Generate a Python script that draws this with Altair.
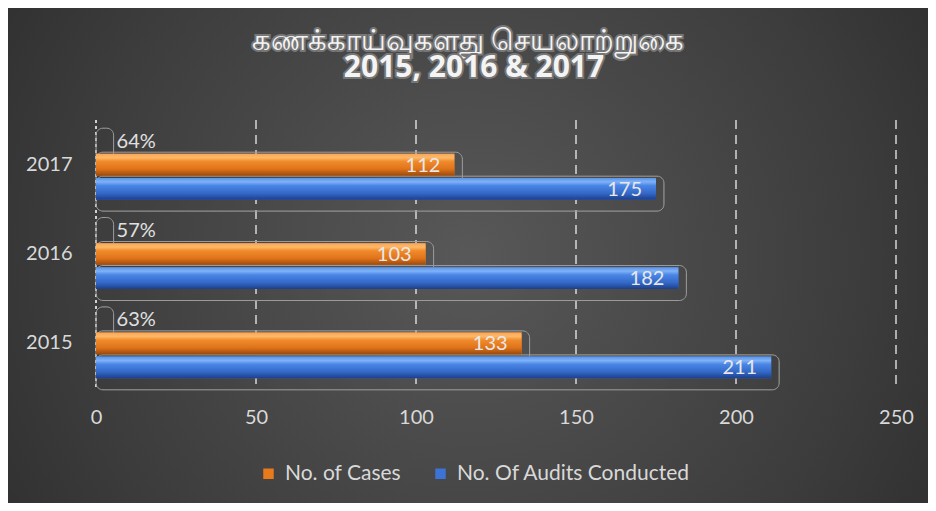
import altair as alt
import pandas as pd

# ---- data ----
years = ["2017", "2016", "2015"]
cases = [112, 103, 133]
audits = [175, 182, 211]
pct_labels = ["64%", "57%", "63%"]
series_names = ["No. of Cases", "No. Of Audits Conducted"]
x_ticks = [0, 50, 100, 150, 200, 250]
title_line1 = "கணக்காய்வுகளது  செயலாற்றுகை"
title_line2 = "2015, 2016 & 2017"

rows = []
for yr, c, a in zip(years, cases, audits):
    rows.append({"year": yr, "series": series_names[0], "value": c})
    rows.append({"year": yr, "series": series_names[1], "value": a})
df = pd.DataFrame(rows)
pct_df = pd.DataFrame({"year": years, "series": ["pct"] * 3, "label": pct_labels, "value": [3] * 3})
grid_df = pd.DataFrame({"value": x_ticks[1:]})
zero_df = pd.DataFrame({"value": x_ticks[:1]})

W, H = 800, 268
FONT = "Lato"
LABEL_COLOR = "#d9d9d9"

x_scale = alt.Scale(domain=[0, 250], nice=False, zero=True)
y_scale = alt.Scale(domain=years, paddingInner=0.216, paddingOuter=0.108)
off_scale = alt.Scale(domain=["pct"] + series_names, paddingInner=0.1, paddingOuter=0)

x_axis = alt.Axis(values=x_ticks, title=None, grid=False, domain=False, ticks=False,
                  labelColor=LABEL_COLOR, labelFont=FONT, labelFontSize=20,
                  labelPadding=19, labelFlush=False, zindex=1)
X = alt.X("value:Q", scale=x_scale, axis=x_axis)
Y = alt.Y("year:N", scale=y_scale, sort=years,
          axis=alt.Axis(title=None, grid=False, domain=False, ticks=False,
                        labelColor=LABEL_COLOR, labelFont=FONT, labelFontSize=20,
                        labelPadding=24, zindex=1))
YO = alt.YOffset("series:N", scale=off_scale)

def lin(stops):
    return alt.Gradient(gradient="linear", x1=0, x2=0, y1=0, y2=1,
                        stops=[alt.GradientStop(offset=o, color=c) for o, c in stops])

orange_grad = lin([(0, "#f7a65a"), (0.18, "#ffb866"), (0.35, "#f08b2c"),
                   (0.7, "#e0731a"), (1, "#9a4a0c")])
blue_grad = lin([(0, "#5b93e6"), (0.18, "#7fb2f7"), (0.35, "#4a86e6"),
                 (0.7, "#3469c8"), (1, "#1d3f8a")])

bg_grad = alt.Gradient(gradient="radial", x1=0.5, y1=0.5, x2=0.5, y2=0.5, r1=0, r2=0.72,
                       stops=[alt.GradientStop(offset=0, color="#585858"),
                              alt.GradientStop(offset=0.6, color="#3c3c3c"),
                              alt.GradientStop(offset=1, color="#262626")])

bg = alt.Chart(pd.DataFrame({"a": [0]})).mark_rect(color=bg_grad).encode(
    x=alt.value(-88), x2=alt.value(832), y=alt.value(-112), y2=alt.value(383))

grid = alt.Chart(grid_df).mark_rule(color="#eeeeee", strokeDash=[9, 6], strokeWidth=1.5,
                                    opacity=0.85).encode(x=X)
zero = alt.Chart(zero_df).mark_rule(color="#d0d0d0", strokeDash=[3, 3], strokeWidth=2).encode(x=X)

def box(data, off):
    return alt.Chart(data).transform_calculate(boxend="datum.value + 2.5").mark_bar(
        height=35, yOffset=off, fillOpacity=0, fill="#000000", stroke="#9a9a9a",
        strokeWidth=1, cornerRadius=7, opacity=0.5
    ).encode(x=alt.X("boxend:Q", scale=x_scale, axis=x_axis), y=Y)

box_pct = box(pct_df, -19)
box_cases = box(df[df.series == series_names[0]], 5)
box_aud = box(df[df.series == series_names[1]], 29)

base_bars = alt.Chart(df).mark_bar().encode(
    x=X, y=Y, yOffset=YO,
    color=alt.Color("series:N", scale=alt.Scale(domain=series_names, range=["#e87a1c", "#3b74d6"]),
                    legend=alt.Legend(title=None, orient="none", legendX=162, legendY=343,
                                      direction="horizontal", labelColor=LABEL_COLOR,
                                      labelFont=FONT, labelFontSize=21, labelLimit=400,
                                      symbolType="square",
                                      symbolSize=110, symbolStrokeWidth=0, labelOffset=6,
                                      columnPadding=28)))

grad_orange = alt.Chart(df[df.series == series_names[0]]).mark_bar(color=orange_grad).encode(
    x=X, y=Y, yOffset=YO)
grad_blue = alt.Chart(df[df.series == series_names[1]]).mark_bar(color=blue_grad).encode(
    x=X, y=Y, yOffset=YO)

value_text = alt.Chart(df).mark_text(align="right", baseline="middle", dx=-14, dy=1,
                                     fontSize=20, font=FONT, color="#e8e8e8").encode(
    x=X, y=Y, yOffset=YO, text="value:Q")

pct_text = alt.Chart(pct_df).mark_text(align="left", baseline="middle", dx=11, dy=1,
                                       fontSize=20, font=FONT, color="#e0e0e0").encode(
    x=X, y=Y, yOffset=YO, text="label:N")

t1_df = pd.DataFrame({"t": [title_line1]})
t2_df = pd.DataFrame({"t": [title_line2]})
title_halo1 = alt.Chart(t1_df).mark_text(fontSize=29, font="Noto Sans", color="#777777",
                                         stroke="#777777", strokeWidth=4, baseline="middle").encode(
    text="t:N", x=alt.value(372), y=alt.value(-79))
title1 = alt.Chart(t1_df).mark_text(fontSize=29, font="Noto Sans", color="#f4f4f4",
                                    baseline="middle").encode(
    text="t:N", x=alt.value(372), y=alt.value(-79))
title_halo2 = alt.Chart(t2_df).mark_text(fontSize=30, font="Open Sans", fontWeight="bold",
                                         color="#777777", stroke="#777777", strokeWidth=4,
                                         baseline="middle").encode(
    text="t:N", x=alt.value(378), y=alt.value(-52))
title2 = alt.Chart(t2_df).mark_text(fontSize=30, font="Open Sans", fontWeight="bold",
                                    color="#f4f4f4", baseline="middle").encode(
    text="t:N", x=alt.value(378), y=alt.value(-52))

chart = alt.layer(
    bg, grid, zero, box_pct, box_aud, box_cases, base_bars, grad_orange, grad_blue,
    value_text, pct_text, title_halo1, title1, title_halo2, title2
).properties(
    width=W, height=H,
    autosize=alt.AutoSizeParams(type="none"),
    padding={"left": 88, "right": 32, "top": 112, "bottom": 115},
    background="#2a2a2a",
).configure_view(stroke=None)

chart.save("out.html", embed_options={"renderer": "svg", "actions": False})
